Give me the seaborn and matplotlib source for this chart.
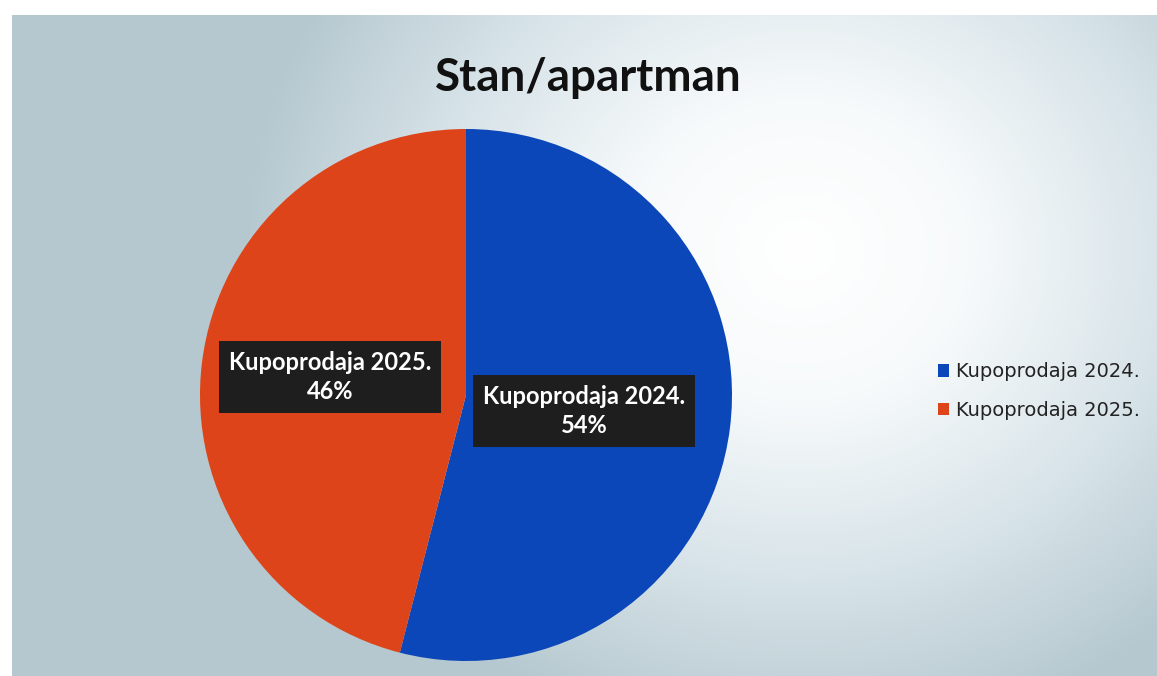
import numpy as np
import matplotlib.pyplot as plt
import seaborn as sns
from matplotlib.colors import LinearSegmentedColormap

# podaci
kategorije = ['Kupoprodaja 2024.', 'Kupoprodaja 2025.']
udjeli = [54, 46]
boje = ['#0b47b9', '#dd4419']
naslov = 'Stan/apartman'

sns.set_theme(style='white')
plt.rcParams['font.family'] = ['Lato', 'DejaVu Sans']

W, H = 1157, 676
fig = plt.figure(figsize=(W / 100, H / 100), dpi=100)
fig.patch.set_facecolor('white')

# pozadina s radijalnim prijelazom
ax_bg = fig.add_axes([12 / W, 0, 1 - 12 / W, 1 - 15 / H])
yy, xx = np.mgrid[15:H, 12:W]
d = np.sqrt(((xx - 800) / 560) ** 2 + ((yy - 250) / 500) ** 2)
cmap = LinearSegmentedColormap.from_list(
    'bg', [(0, '#ffffff'), (0.3, '#f7fafb'), (0.65, '#d8e4e9'), (1, '#b5c8cf')])
ax_bg.imshow(np.clip(d, 0, 1), cmap=cmap, aspect='auto', interpolation='bilinear')
ax_bg.set_axis_off()

# pita
r = 266
cx, cy = 466, 395
ax = fig.add_axes([(cx - r) / W, (H - cy - r) / H, 2 * r / W, 2 * r / H])
klinovi, _ = ax.pie(udjeli, colors=boje, startangle=90, counterclock=False,
                    radius=1, wedgeprops=dict(linewidth=0))
ax.set_xlim(-1, 1)
ax.set_ylim(-1, 1)
ax.set_aspect('equal')
ax.set_axis_off()

kutija = dict(boxstyle='square,pad=0.42', fc='#1e1e1e', ec='none')
pozicije = [(0.445, -0.06), (-0.511, 0.068)]
for kat, u, (x, y) in zip(kategorije, udjeli, pozicije):
    ax.text(x, y, f'{kat}\n{u}%', ha='center', va='center', color='white',
            fontsize=17, fontweight='bold', linespacing=1.3, bbox=kutija)

fig.text(588 / W, 1 - 78 / H, naslov, ha='center', va='center',
         fontsize=33, fontweight='bold', color='#111111')

leg = fig.legend(klinovi, kategorije, loc='center left',
                 bbox_to_anchor=(920 / W, 1 - 391 / H), frameon=False,
                 prop={'family': 'DejaVu Sans', 'size': 14},
                 handlelength=0.6, handleheight=0.6, handletextpad=0.35,
                 labelspacing=1.0, labelcolor='#222222')

fig.savefig('out.png', dpi=100)
